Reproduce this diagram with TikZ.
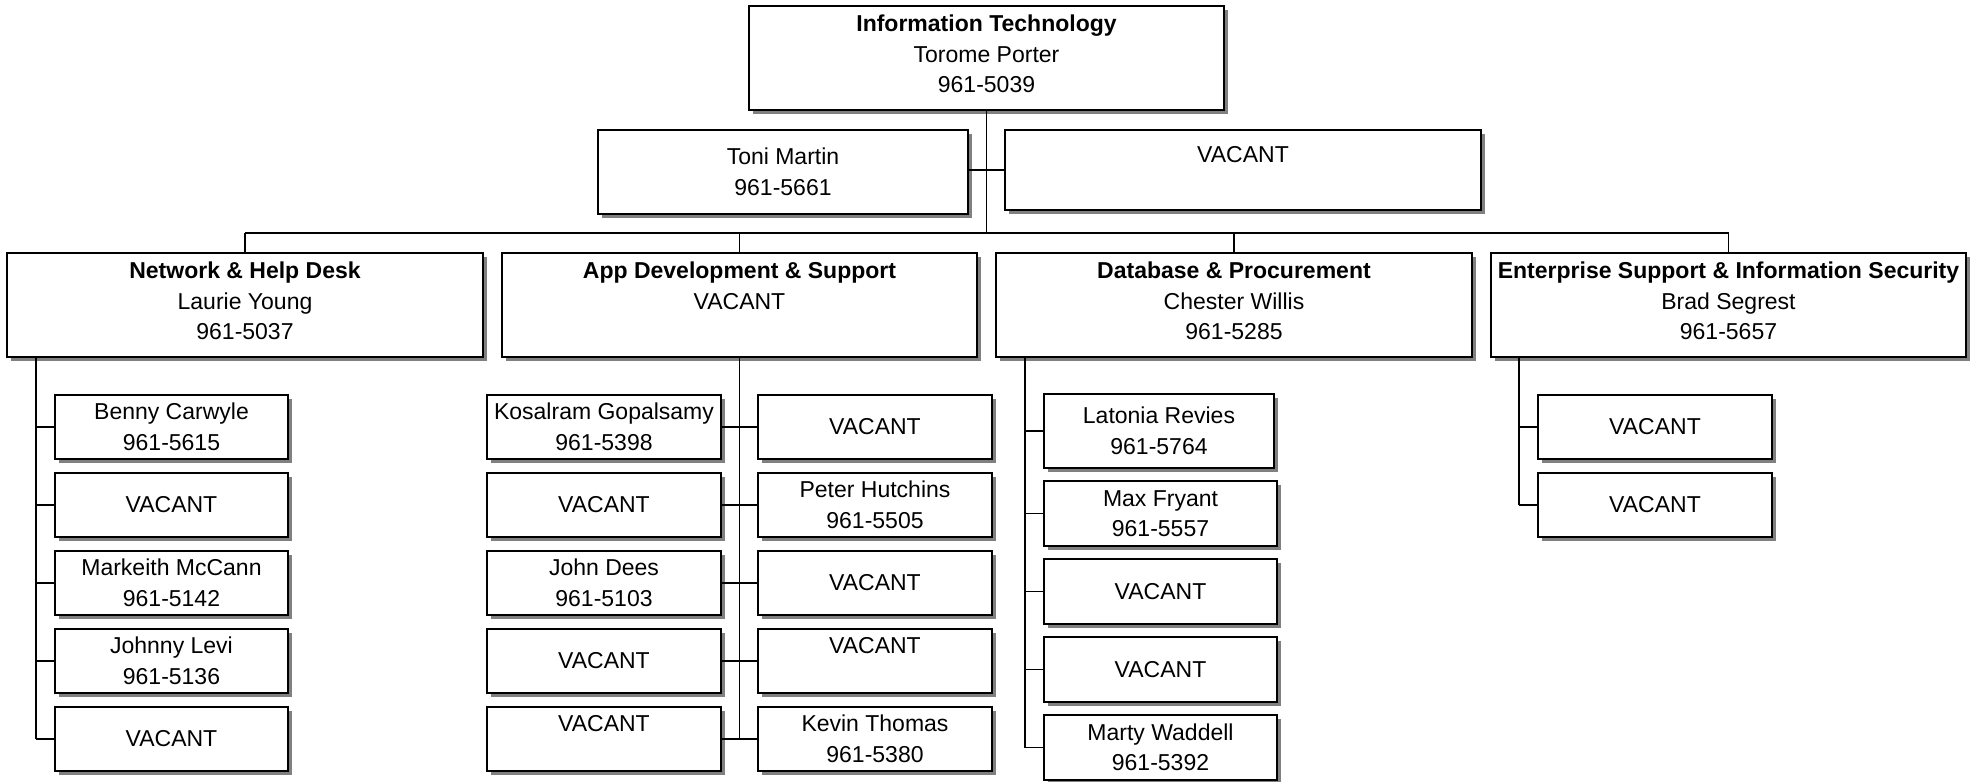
\documentclass[tikz,border=0pt]{standalone}
\usepackage{fontspec}
\setmainfont{Liberation Sans}
\usetikzlibrary{shadows}
\definecolor{shadowgray}{HTML}{808080}
\tikzset{
  orgbox/.style={draw=black, line width=0.9pt, fill=white, inner sep=0pt, outer sep=0pt,
    align=center, font=\fontsize{11.5pt}{15.25pt}\selectfont,
    drop shadow={shadow xshift=2pt, shadow yshift=-2pt, fill=shadowgray, opacity=1}},
  wire/.style={draw=black, line width=0.75pt},
}
\newcommand{\bx}[6]{\node[orgbox, minimum width=#4*0.5pt, minimum height=#5*0.5pt] (#1) at (#2,#3) {#6};}
\newcommand{\lift}{\rule[-4pt]{0pt}{0pt}}
\begin{document}
\begin{tikzpicture}[x=0.5pt, y=-0.5pt]
\useasboundingbox (0,0) rectangle (1982,782);
% top level
\bx{top}{986.5}{58}{475}{104}{\textbf{Information Technology}\\Torome Porter\\961-5039\lift}
\bx{toni}{783}{172}{370}{84}{Toni Martin\\961-5661}
\bx{vac0}{1243}{170}{476}{80}{VACANT\\\mbox{}}
% departments
\bx{net}{245}{305}{476}{104}{\textbf{Network \& Help Desk}\\Laurie Young\\961-5037\lift}
\bx{app}{739.5}{305}{475}{104}{\textbf{App Development \& Support}\\VACANT\\\mbox{}\lift}
\bx{db}{1234}{305}{476}{104}{\textbf{Database \& Procurement}\\Chester Willis\\961-5285\lift}
\bx{ent}{1728.5}{305}{475}{104}{\textbf{Enterprise Support \& Information Security}\\Brad Segrest\\961-5657\lift}
% network children
\bx{n1}{171.5}{427}{233}{64}{Benny Carwyle\\961-5615}
\bx{n2}{171.5}{505}{233}{64}{VACANT}
\bx{n3}{171.5}{583}{233}{64}{Markeith McCann\\961-5142}
\bx{n4}{171.5}{661}{233}{64}{Johnny Levi\\961-5136}
\bx{n5}{171.5}{739}{233}{64}{VACANT}
% app children
\bx{a1l}{604}{427}{234}{64}{Kosalram Gopalsamy\\961-5398}
\bx{a1r}{875}{427}{234}{64}{VACANT}
\bx{a2l}{604}{505}{234}{64}{VACANT}
\bx{a2r}{875}{505}{234}{64}{Peter Hutchins\\961-5505}
\bx{a3l}{604}{583}{234}{64}{John Dees\\961-5103}
\bx{a3r}{875}{583}{234}{64}{VACANT}
\bx{a4l}{604}{661}{234}{64}{VACANT}
\bx{a4r}{875}{661}{234}{64}{VACANT\\\mbox{}}
\bx{a5l}{604}{739}{234}{64}{VACANT\\\mbox{}}
\bx{a5r}{875}{739}{234}{64}{Kevin Thomas\\961-5380}
% db children
\bx{d1}{1159}{431}{230}{74}{Latonia Revies\\961-5764}
\bx{d2}{1160.5}{513.5}{233}{65}{Max Fryant\\961-5557}
\bx{d3}{1160.5}{591.5}{233}{65}{VACANT}
\bx{d4}{1160.5}{669.5}{233}{65}{VACANT}
\bx{d5}{1160.5}{747.5}{233}{65}{Marty Waddell\\961-5392}
% enterprise children
\bx{e1}{1655}{427}{234}{64}{VACANT}
\bx{e2}{1655}{505}{234}{64}{VACANT}
% connectors
\coordinate (bus) at (245,233);
\draw[wire] (top.south) -- (top.south |- bus);
\draw[wire] (bus -| net.north) -- (bus -| ent.north);
\foreach \d in {net,app,db,ent} \draw[wire] (bus -| \d.north) -- (\d.north);
\draw[wire] (vac0.west -| toni.east) -- (vac0.west);
% network
\coordinate (netv) at (36,357);
\draw[wire] (netv) -- (netv |- n5.west);
\foreach \c in {n1,n2,n3,n4,n5} \draw[wire] (netv |- \c.west) -- (\c.west);
% app
\draw[wire] (app.south) -- (app.south |- a5l.east);
\foreach \r in {1,...,5} \draw[wire] (a\r l.east) -- (a\r r.west);
% db
\coordinate (dbv) at (1025,357);
\draw[wire] (dbv) -- (dbv |- d5.west);
\foreach \c in {d1,d2,d3,d4,d5} \draw[wire] (dbv |- \c.west) -- (\c.west);
% enterprise
\coordinate (entv) at (1519,357);
\draw[wire] (entv) -- (entv |- e2.west);
\foreach \c in {e1,e2} \draw[wire] (entv |- \c.west) -- (\c.west);
\end{tikzpicture}
\end{document}
